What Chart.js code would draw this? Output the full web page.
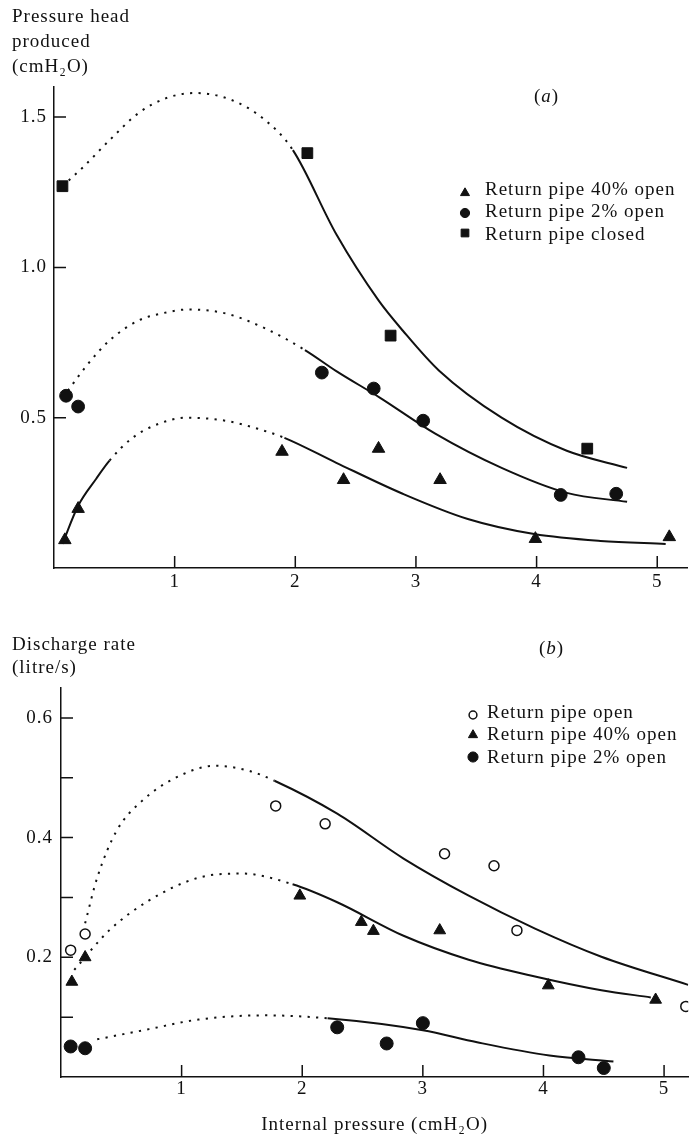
<!DOCTYPE html>
<html>
<head>
<meta charset="utf-8">
<script src="https://cdn.jsdelivr.net/npm/chart.js"></script>
<style>
  html, body { margin: 0; padding: 0; background: #fff; }
  #wrap { position: relative; width: 696px; height: 1138px; overflow: hidden; }
  canvas { position: absolute; left: 0; display: block; }
</style>
</head>
<body>
<div id="wrap">
  <canvas id="head" width="696" height="600" style="top:0"></canvas>
  <canvas id="flow" width="696" height="538" style="top:600px"></canvas>
</div>
<script>
// ---- (a) pressure head produced, measured points ----
const headSeries = ['Return pipe 40% open', 'Return pipe 2% open', 'Return pipe closed'];
const head40X = [0.09, 0.2, 1.89, 2.4, 2.69, 3.2, 3.99, 5.1];
const head40Y = [0.093, 0.197, 0.387, 0.293, 0.397, 0.293, 0.097, 0.103];
const head2X = [0.1, 0.2, 2.22, 2.65, 3.06, 4.2, 4.66];
const head2Y = [0.573, 0.537, 0.65, 0.597, 0.49, 0.243, 0.247];
const headClosedX = [0.07, 2.1, 2.79, 4.42];
const headClosedY = [1.27, 1.38, 0.773, 0.397];

// fitted curves (a)
const headCurve40X = [0.07, 0.2, 0.35, 0.46, 0.65, 0.87, 1.1, 1.42, 1.69, 1.91, 2.34, 2.89, 3.43, 3.98, 4.53, 5.07];
const headCurve40Y = [0.08, 0.207, 0.297, 0.357, 0.433, 0.48, 0.5, 0.49, 0.463, 0.433, 0.35, 0.247, 0.163, 0.113, 0.09, 0.08];
const headCurve2X = [0.115, 0.27, 0.46, 0.7, 0.93, 1.11, 1.42, 1.75, 2.08, 2.34, 2.7, 3.16, 3.71, 4.25, 4.75];
const headCurve2Y = [0.59, 0.673, 0.757, 0.823, 0.85, 0.86, 0.847, 0.797, 0.725, 0.655, 0.567, 0.447, 0.333, 0.25, 0.22];
const headCurveClosedX = [0.07, 0.24, 0.46, 0.7, 0.93, 1.17, 1.47, 1.75, 1.98, 2.34, 2.69, 2.89, 3.19, 3.71, 4.25, 4.75];
const headCurveClosedY = [1.27, 1.333, 1.423, 1.513, 1.563, 1.58, 1.557, 1.49, 1.39, 1.11, 0.89, 0.79, 0.657, 0.5, 0.39, 0.333];

// ---- (b) discharge rate, measured points ----
const flowSeries = ['Return pipe open', 'Return pipe 40% open', 'Return pipe 2% open'];
const flowOpenX = [0.08, 0.2, 1.78, 2.19, 3.18, 3.59, 3.78, 5.18];
const flowOpenY = [0.212, 0.239, 0.453, 0.423, 0.373, 0.353, 0.245, 0.118];
const flow40X = [0.09, 0.2, 1.98, 2.49, 2.59, 3.14, 4.04, 4.93];
const flow40Y = [0.159, 0.2, 0.303, 0.259, 0.244, 0.245, 0.153, 0.129];
const flow2X = [0.08, 0.2, 2.29, 2.7, 3.0, 4.29, 4.5];
const flow2Y = [0.051, 0.048, 0.083, 0.056, 0.09, 0.033, 0.015];

// fitted curves (b)
const flowCurveOpenX = [0.2, 0.3, 0.46, 0.67, 0.95, 1.28, 1.57, 1.77, 2.29, 2.84, 3.38, 3.93, 4.48, 5.2];
const flowCurveOpenY = [0.257, 0.333, 0.411, 0.461, 0.5, 0.52, 0.511, 0.495, 0.44, 0.365, 0.303, 0.248, 0.201, 0.154];
const flowCurve40X = [0.11, 0.4, 0.73, 1.14, 1.5, 1.92, 2.29, 2.84, 3.38, 3.93, 4.48, 4.89];
const flowCurve40Y = [0.179, 0.245, 0.295, 0.333, 0.34, 0.322, 0.292, 0.236, 0.196, 0.168, 0.145, 0.133];
const flowCurve2X = [0.3, 0.73, 1.14, 1.69, 2.21, 3.0, 3.45, 4.05, 4.58];
const flowCurve2Y = [0.063, 0.08, 0.096, 0.103, 0.098, 0.078, 0.058, 0.036, 0.026];

// ticks
const xTicks = [1, 2, 3, 4, 5];
const headTicks = [0.5, 1.0, 1.5];
const flowTicks = [0.1, 0.2, 0.3, 0.4, 0.5, 0.6];
const flowTickLabels = [0.2, 0.4, 0.6];

const INK = '#111';
const SERIF = '"Liberation Serif", "Times New Roman", "DejaVu Serif", serif';
const TICK = 12;
const DOTS = [2.2, 6.3];

function pts(xs, ys) {
  return xs.map((x, i) => ({ x: x, y: ys[i] }));
}

function marks(label, xs, ys, style, r, fill) {
  return {
    label: label,
    data: pts(xs, ys),
    pointStyle: style,
    pointRadius: r,
    pointBackgroundColor: fill,
    pointBorderColor: INK,
    pointBorderWidth: fill === INK ? 1 : 1.5,
    showLine: false,
    order: 1
  };
}

// dotted between dotFrom and dotTo, solid elsewhere
function curve(xs, ys, dotFrom, dotTo) {
  return {
    data: pts(xs, ys),
    showLine: true,
    pointRadius: 0,
    borderColor: INK,
    borderWidth: 2,
    cubicInterpolationMode: 'monotone',
    order: 2,
    segment: {
      borderDash: ctx => (ctx.p0.parsed.x >= dotFrom - 1e-9 && ctx.p1.parsed.x <= dotTo + 1e-9) ? DOTS : undefined
    }
  };
}

const spacing = {
  id: 'spacing',
  beforeUpdate(chart) { chart.ctx.letterSpacing = '1px'; },
  beforeDraw(chart) { chart.ctx.letterSpacing = '1px'; }
};

// tick marks pointing into the plot
const inTicks = {
  id: 'inTicks',
  beforeDatasetsDraw(chart) {
    const { ctx, chartArea: a, scales: { x, y } } = chart;
    ctx.save();
    ctx.strokeStyle = INK;
    ctx.lineWidth = 1.5;
    ctx.beginPath();
    x.ticks.forEach(t => {
      const px = x.getPixelForValue(t.value);
      ctx.moveTo(px, a.bottom);
      ctx.lineTo(px, a.bottom - TICK);
    });
    y.ticks.forEach(t => {
      const py = y.getPixelForValue(t.value);
      ctx.moveTo(a.left, py);
      ctx.lineTo(a.left + TICK, py);
    });
    ctx.stroke();
    ctx.restore();
  }
};

function drawMark(ctx, style, r, x, y, bw) {
  if (Chart.helpers && Chart.helpers.drawPoint) {
    Chart.helpers.drawPoint(ctx, { pointStyle: style, radius: r, rotation: 0, borderWidth: bw }, x, y);
    return;
  }
  ctx.beginPath();
  if (style === 'triangle') {
    ctx.moveTo(x, y - r);
    ctx.lineTo(x + r * 0.866, y + r / 2);
    ctx.lineTo(x - r * 0.866, y + r / 2);
    ctx.closePath();
  } else if (style === 'rect') {
    const s = r * Math.SQRT1_2;
    ctx.rect(x - s, y - s, 2 * s, 2 * s);
  } else {
    ctx.arc(x, y, r, 0, Math.PI * 2);
  }
  ctx.fill();
  if (bw > 0) ctx.stroke();
}

// key and panel tag, placed inside the plot like the original figure
const pipeLegend = {
  id: 'pipeLegend',
  afterDraw(chart, args, o) {
    const ctx = chart.ctx;
    const keyed = chart.data.datasets.filter(d => d.label);
    ctx.save();
    ctx.letterSpacing = '1px';
    ctx.textAlign = 'left';
    ctx.textBaseline = 'alphabetic';
    keyed.forEach((d, i) => {
      ctx.fillStyle = d.pointBackgroundColor;
      ctx.strokeStyle = INK;
      ctx.lineWidth = d.pointBorderWidth;
      drawMark(ctx, d.pointStyle, d.pointRadius * o.scale, o.markX, o.markY[i], d.pointBorderWidth);
      ctx.fillStyle = INK;
      ctx.font = '19px ' + SERIF;
      ctx.fillText(d.label, o.textX, o.baseY[i]);
    });
    let x = o.tagX;
    ['(', o.tag, ')'].forEach((s, i) => {
      ctx.font = (i === 1 ? 'italic ' : '') + '19px ' + SERIF;
      ctx.fillText(s, x, o.tagY);
      x += ctx.measureText(s).width;
    });
    ctx.restore();
  }
};

function axisFont() {
  return { family: SERIF, size: 19, lineHeight: 1 };
}

new Chart(document.getElementById('head'), {
  type: 'scatter',
  data: {
    datasets: [
      marks(headSeries[0], head40X, head40Y, 'triangle', 7.2, INK),
      marks(headSeries[1], head2X, head2Y, 'circle', 6.4, INK),
      marks(headSeries[2], headClosedX, headClosedY, 'rect', 7.6, INK),
      curve(headCurve40X, headCurve40Y, 0.46, 1.91),
      curve(headCurve2X, headCurve2Y, 0, 2.08),
      curve(headCurveClosedX, headCurveClosedY, 0, 1.98)
    ]
  },
  options: {
    responsive: false,
    animation: false,
    devicePixelRatio: 1,
    events: [],
    layout: { padding: { left: 12, right: 1, top: 0, bottom: 0 } },
    plugins: {
      legend: { display: false },
      tooltip: { enabled: false },
      title: {
        display: true,
        text: ['Pressure head', 'produced', '(cmH\u2082O)'],
        align: 'start',
        color: INK,
        font: { family: SERIF, size: 19, weight: 'normal', lineHeight: '25px' },
        padding: { top: 5, bottom: 7 }
      },
      pipeLegend: {
        markX: 465, markY: [193, 213, 233], textX: 485, baseY: [195, 217, 240], scale: 0.72,
        tag: 'a', tagX: 534, tagY: 102
      }
    },
    scales: {
      x: {
        type: 'linear', min: 0, max: 5.25,
        grid: { display: true, drawOnChartArea: false, drawTicks: false, color: INK },
        border: { display: true, color: INK, width: 1.5 },
        ticks: { color: INK, font: axisFont(), padding: 4.5, callback: v => String(v) },
        afterBuildTicks: s => { s.ticks = xTicks.map(v => ({ value: v })); },
        afterFit: s => { s.height = 32; }
      },
      y: {
        type: 'linear', min: 0, max: 1.6,
        grid: { display: true, drawOnChartArea: false, drawTicks: false, color: INK },
        border: { display: true, color: INK, width: 1.5 },
        ticks: { color: INK, font: axisFont(), padding: 7, callback: v => v.toFixed(1) },
        afterBuildTicks: s => { s.ticks = headTicks.map(v => ({ value: v })); },
        afterFit: s => { s.width = 42; }
      }
    }
  },
  plugins: [spacing, inTicks, pipeLegend]
});

new Chart(document.getElementById('flow'), {
  type: 'scatter',
  data: {
    datasets: [
      marks(flowSeries[0], flowOpenX, flowOpenY, 'circle', 5, '#fff'),
      marks(flowSeries[1], flow40X, flow40Y, 'triangle', 6.8, INK),
      marks(flowSeries[2], flow2X, flow2Y, 'circle', 6.5, INK),
      curve(flowCurveOpenX, flowCurveOpenY, 0, 1.77),
      curve(flowCurve40X, flowCurve40Y, 0, 1.92),
      curve(flowCurve2X, flowCurve2Y, 0, 2.21)
    ]
  },
  options: {
    responsive: false,
    animation: false,
    devicePixelRatio: 1,
    events: [],
    layout: { padding: { left: 12, right: 0, top: 0, bottom: 0 } },
    plugins: {
      legend: { display: false },
      tooltip: { enabled: false },
      title: {
        display: true,
        text: ['Discharge rate', '(litre/s)'],
        align: 'start',
        color: INK,
        font: { family: SERIF, size: 19, weight: 'normal', lineHeight: '23px' },
        padding: { top: 34, bottom: 8 }
      },
      pipeLegend: {
        markX: 473, markY: [115, 135, 157], textX: 487, baseY: [118, 140, 163], scale: 0.78,
        tag: 'b', tagX: 539, tagY: 54
      }
    },
    scales: {
      x: {
        type: 'linear', min: 0, max: 5.2,
        grid: { display: true, drawOnChartArea: false, drawTicks: false, color: INK },
        border: { display: true, color: INK, width: 1.5 },
        ticks: { color: INK, font: axisFont(), padding: 2.5, callback: v => String(v) },
        afterBuildTicks: s => { s.ticks = xTicks.map(v => ({ value: v })); },
        afterFit: s => { s.height = 61; },
        title: {
          display: true,
          text: 'Internal pressure (cmH\u2082O)',
          color: INK,
          font: { family: SERIF, size: 19 },
          padding: { top: 0, bottom: 2 }
        }
      },
      y: {
        type: 'linear', min: 0, max: 0.65,
        grid: { display: true, drawOnChartArea: false, drawTicks: false, color: INK },
        border: { display: true, color: INK, width: 1.5 },
        ticks: {
          color: INK, font: axisFont(), padding: 8,
          callback: v => flowTickLabels.some(l => Math.abs(l - v) < 1e-9) ? v.toFixed(1) : ''
        },
        afterBuildTicks: s => { s.ticks = flowTicks.map(v => ({ value: v })); },
        afterFit: s => { s.width = 49; }
      }
    }
  },
  plugins: [spacing, inTicks, pipeLegend]
});
</script>
</body>
</html>
